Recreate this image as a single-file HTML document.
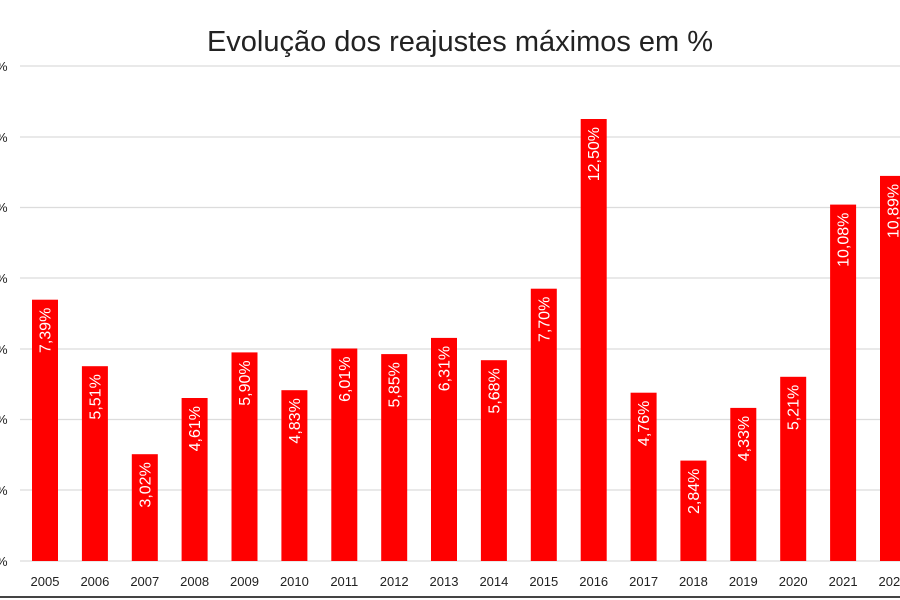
<!DOCTYPE html>
<html><head><meta charset="utf-8"><style>
html,body{margin:0;padding:0;background:#fff;}
svg{display:block;font-family:"Liberation Sans",sans-serif;}
</style></head><body>
<svg width="900" height="600" viewBox="0 0 900 600" xmlns="http://www.w3.org/2000/svg">
<rect width="900" height="600" fill="#fff"/>
<text x="460" y="51" text-anchor="middle" font-size="29" fill="#222">Evolução dos reajustes máximos em %</text>
<g stroke="#dcdcdc" stroke-width="1.2">
<line x1="20" x2="900" y1="66" y2="66"/>
<line x1="20" x2="900" y1="137" y2="137"/>
<line x1="20" x2="900" y1="207.5" y2="207.5"/>
<line x1="20" x2="900" y1="278" y2="278"/>
<line x1="20" x2="900" y1="349" y2="349"/>
<line x1="20" x2="900" y1="419.5" y2="419.5"/>
<line x1="20" x2="900" y1="490" y2="490"/>
<line x1="20" x2="900" y1="561" y2="561"/>
</g>
<g font-size="13" fill="#222">
<text x="-4" y="71">%</text><text x="-4" y="142">%</text><text x="-4" y="212">%</text>
<text x="-4" y="283">%</text><text x="-4" y="354">%</text><text x="-4" y="424">%</text>
<text x="-4" y="495">%</text><text x="-4" y="566">%</text>
</g>
<g fill="#ff0000">
<rect x="32" y="299.7" width="26" height="261.3"/>
<rect x="81.9" y="366.2" width="26" height="194.8"/>
<rect x="131.8" y="454.2" width="26" height="106.8"/>
<rect x="181.6" y="398" width="26" height="163"/>
<rect x="231.5" y="352.4" width="26" height="208.6"/>
<rect x="281.4" y="390.2" width="26" height="170.8"/>
<rect x="331.3" y="348.5" width="26" height="212.5"/>
<rect x="381.2" y="354.1" width="26" height="206.9"/>
<rect x="431" y="337.9" width="26" height="223.1"/>
<rect x="480.9" y="360.2" width="26" height="200.8"/>
<rect x="530.8" y="288.7" width="26" height="272.3"/>
<rect x="580.7" y="119" width="26" height="442"/>
<rect x="630.6" y="392.7" width="26" height="168.3"/>
<rect x="680.4" y="460.6" width="26" height="100.4"/>
<rect x="730.3" y="407.9" width="26" height="153.1"/>
<rect x="780.2" y="376.8" width="26" height="184.2"/>
<rect x="830.1" y="204.6" width="26" height="356.4"/>
<rect x="880" y="175.9" width="26" height="385.1"/>
</g>
<g fill="#fff" font-size="16" text-anchor="end">
<text transform="translate(50.5,307.7) rotate(-90)">7,39%</text>
<text transform="translate(100.4,374.2) rotate(-90)">5,51%</text>
<text transform="translate(150.3,462.2) rotate(-90)">3,02%</text>
<text transform="translate(200.1,406) rotate(-90)">4,61%</text>
<text transform="translate(250,360.4) rotate(-90)">5,90%</text>
<text transform="translate(299.9,398.2) rotate(-90)">4,83%</text>
<text transform="translate(349.8,356.5) rotate(-90)">6,01%</text>
<text transform="translate(399.7,362.1) rotate(-90)">5,85%</text>
<text transform="translate(449.5,345.9) rotate(-90)">6,31%</text>
<text transform="translate(499.4,368.2) rotate(-90)">5,68%</text>
<text transform="translate(549.3,296.7) rotate(-90)">7,70%</text>
<text transform="translate(599.2,127) rotate(-90)">12,50%</text>
<text transform="translate(649.1,400.7) rotate(-90)">4,76%</text>
<text transform="translate(698.9,468.6) rotate(-90)">2,84%</text>
<text transform="translate(748.8,415.9) rotate(-90)">4,33%</text>
<text transform="translate(798.7,384.8) rotate(-90)">5,21%</text>
<text transform="translate(848.6,212.6) rotate(-90)">10,08%</text>
<text transform="translate(898.5,183.9) rotate(-90)">10,89%</text>
</g>
<g fill="#222" font-size="13" text-anchor="middle">
<text x="45" y="586">2005</text>
<text x="94.9" y="586">2006</text>
<text x="144.8" y="586">2007</text>
<text x="194.6" y="586">2008</text>
<text x="244.5" y="586">2009</text>
<text x="294.4" y="586">2010</text>
<text x="344.3" y="586">2011</text>
<text x="394.2" y="586">2012</text>
<text x="444" y="586">2013</text>
<text x="493.9" y="586">2014</text>
<text x="543.8" y="586">2015</text>
<text x="593.7" y="586">2016</text>
<text x="643.6" y="586">2017</text>
<text x="693.4" y="586">2018</text>
<text x="743.3" y="586">2019</text>
<text x="793.2" y="586">2020</text>
<text x="843.1" y="586">2021</text>
<text x="893" y="586">2022</text>
</g>
<line x1="0" x2="900" y1="597" y2="597" stroke="#444" stroke-width="2"/>
</svg>
</body></html>
